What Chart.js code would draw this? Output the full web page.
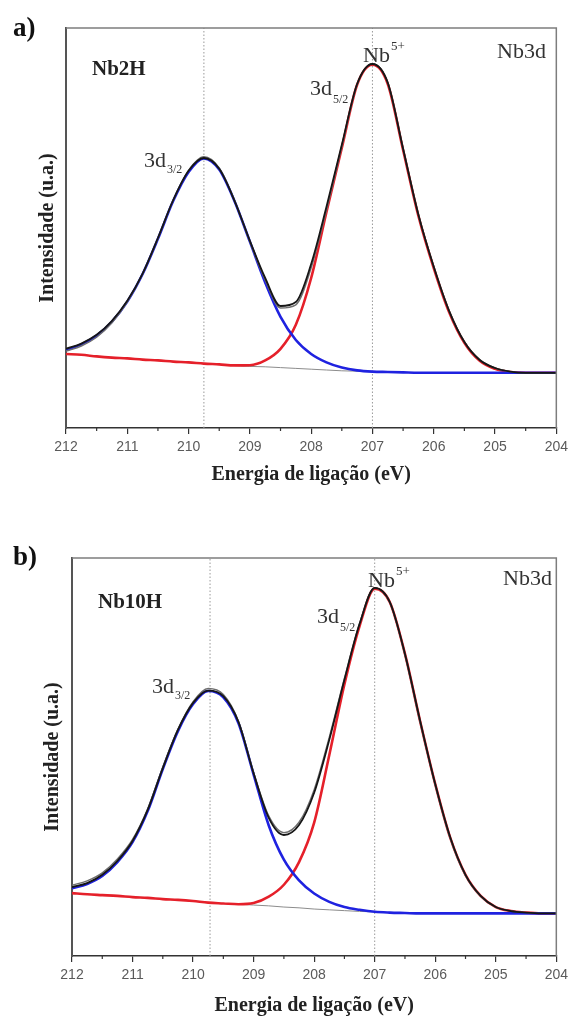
<!DOCTYPE html>
<html><head><meta charset="utf-8">
<script src="https://cdn.jsdelivr.net/npm/chart.js@4.4.0/dist/chart.umd.min.js"></script>
<style>
html,body{margin:0;padding:0;background:#fff;overflow:hidden;width:573px;height:1016px;}
canvas{position:absolute;left:0;}
#ca{top:0;} #cb{top:530px;}
</style></head><body>
<canvas id="ca" width="573" height="500"></canvas>
<canvas id="cb" width="573" height="500"></canvas>
<script>
// Binding energy (eV)
const energy = [212, 211.75, 211.5, 211.25, 211, 210.75, 210.5, 210.25, 210, 209.75, 209.5, 209.25, 209, 208.75, 208.5, 208.25, 208, 207.75, 207.5, 207.25, 207, 206.75, 206.5, 206.25, 206, 205.75, 205.5, 205.25, 205, 204.75, 204.5, 204.25, 204];
const xTickValues = [212, 211, 210, 209, 208, 207, 206, 205, 204];
const xMinorTickValues = [211.5, 210.5, 209.5, 208.5, 207.5, 206.5, 205.5, 204.5];

// Panel a) Nb2H
const bgA   = [18.5, 18.3, 17.9, 17.6, 17.4, 17.1, 16.9, 16.6, 16.4, 16.1, 15.9, 15.6, 15.4, 15.3, 15.1, 14.9, 14.7, 14.5, 14.3, 14.2, 14.1, 14.0, 13.9, 13.8, 13.8, 13.8, 13.8, 13.8, 13.8, 13.8, 13.8, 13.8, 13.8];
const redA  = [18.5, 18.3, 17.9, 17.6, 17.4, 17.1, 16.9, 16.6, 16.4, 16.1, 15.9, 15.65, 15.7, 16.9, 19.8, 25.8, 37.5, 54.0, 70.0, 85.8, 90.8, 86.0, 69.5, 53.0, 40.0, 29.0, 21.3, 16.8, 14.8, 14.0, 13.8, 13.8, 13.8];
const blueA = [19.5, 20.9, 23.1, 26.6, 31.6, 38.5, 47.3, 56.8, 64.0, 67.4, 64.6, 56.7, 46.6, 36.4, 27.8, 22.0, 18.5, 16.4, 15.1, 14.4, 14.1, 14.0, 13.9, 13.8, 13.8, 13.8, 13.8, 13.8, 13.8, 13.8, 13.8, 13.8, 13.8];
const expA  = [19.8, 21.1, 23.3, 26.8, 31.8, 38.6, 47.5, 57.0, 64.3, 67.5, 64.8, 56.8, 46.8, 37.5, 30.5, 31.5, 41.0, 55.3, 70.8, 86.0, 91.0, 86.3, 69.8, 53.3, 40.3, 29.3, 21.5, 17.0, 15.0, 14.1, 13.8, 13.8, 13.8];
const fitA  = [19.2, 20.5, 22.7, 26.3, 31.5, 38.5, 47.4, 57.0, 64.4, 67.8, 65.0, 56.9, 46.6, 37.0, 30.0, 30.8, 40.0, 54.5, 70.3, 85.9, 91.1, 86.4, 69.9, 53.4, 40.4, 29.4, 21.6, 17.1, 15.0, 14.1, 13.8, 13.8, 13.8];
const peakLinesA = [209.75, 207.0];

// Panel b) Nb10H
const bgB   = [15.8, 15.5, 15.3, 15.1, 14.8, 14.6, 14.3, 14.1, 13.8, 13.4, 13.2, 13.0, 12.8, 12.6, 12.3, 12.1, 11.8, 11.6, 11.4, 11.2, 11.1, 10.9, 10.9, 10.8, 10.7, 10.7, 10.7, 10.7, 10.7, 10.7, 10.7, 10.7, 10.7];
const redB  = [15.8, 15.5, 15.3, 15.1, 14.8, 14.6, 14.3, 14.1, 13.8, 13.4, 13.2, 13.0, 13.3, 14.9, 17.9, 23.6, 33.5, 50.5, 68.3, 82.9, 92.3, 88.9, 75.9, 59.0, 43.2, 29.6, 20.4, 15.1, 12.3, 11.3, 10.9, 10.7, 10.7];
const blueB = [17.0, 18.1, 20.1, 23.6, 28.6, 36.4, 47.0, 56.5, 63.3, 66.6, 65.0, 58.5, 45.6, 32.8, 24.2, 19.0, 15.7, 13.6, 12.3, 11.6, 11.1, 10.9, 10.8, 10.7, 10.7, 10.7, 10.7, 10.7, 10.7, 10.7, 10.7, 10.7, 10.7];
const expB  = [17.3, 18.3, 20.4, 23.9, 28.9, 36.7, 47.2, 56.8, 63.6, 66.7, 65.3, 58.8, 45.9, 34.7, 30.4, 32.9, 41.0, 54.3, 69.4, 83.4, 92.5, 88.9, 75.9, 59.1, 43.2, 29.7, 20.4, 15.1, 12.3, 11.3, 10.9, 10.7, 10.7];
const fitB  = [17.8, 18.9, 20.9, 24.4, 29.3, 37.0, 47.5, 57.0, 63.9, 67.2, 65.7, 59.0, 46.1, 35.2, 31.0, 33.6, 41.8, 55.0, 69.8, 83.6, 92.5, 88.8, 75.6, 58.7, 42.9, 29.4, 20.2, 15.0, 12.3, 11.3, 10.9, 10.7, 10.7];
const peakLinesB = [209.72, 207.0];

const SERIF = '"Liberation Serif", "Times New Roman", serif';
const SANS = '"Liberation Sans", Arial, sans-serif';

const pts = arr => energy.map((e, i) => ({x: e, y: arr[i]}));

const decorPlugin = {
  id: 'decor',
  afterDraw(chart, args, opts) {
    const {ctx, chartArea: {left, right, top, bottom}, scales: {x}} = chart;
    ctx.save();
    // top and right frame
    ctx.strokeStyle = '#7d7d7d'; ctx.lineWidth = 1.5;
    ctx.beginPath(); ctx.moveTo(left, top); ctx.lineTo(right, top); ctx.lineTo(right, bottom); ctx.stroke();
    // minor ticks
    ctx.strokeStyle = '#333'; ctx.lineWidth = 1.2;
    for (const v of xMinorTickValues) {
      const p = x.getPixelForValue(v);
      ctx.beginPath(); ctx.moveTo(p, bottom); ctx.lineTo(p, bottom + 3); ctx.stroke();
    }
    // texts
    ctx.textBaseline = 'alphabetic'; ctx.textAlign = 'left';
    for (const it of opts.items || []) {
      ctx.font = it.font; ctx.fillStyle = it.color || '#333';
      ctx.fillText(it.text, it.x, it.y);
      const w = ctx.measureText(it.text).width;
      if (it.sub) { ctx.font = it.subFont; ctx.fillText(it.sub, it.x + w + 1, it.y + it.subDy); }
      if (it.sup) { ctx.font = it.supFont; ctx.fillText(it.sup, it.x + w + 1, it.y + it.supDy); }
    }
    ctx.restore();
  }
};

function makeChart(id, d, cfg) {
  const lineDs = (label, arr, color, width) => ({
    label, data: pts(arr), borderColor: color, borderWidth: width,
    pointRadius: 0, fill: false, cubicInterpolationMode: 'monotone'
  });
  const datasets = [
    lineDs('Experimental', d.exp, '#161616', 1.8),
    lineDs('Envelope', d.fit, '#6e6e6e', 1.4),
    lineDs('3d3/2', d.blue, '#1f22e0', 2.6),
    lineDs('3d5/2', d.red, '#e5202a', 2.6),
    lineDs('Background', d.bg, '#8c8c8c', 1),
  ];
  d.peaks.forEach(v => datasets.push({
    label: 'peak ' + v, data: [{x: v, y: 0}, {x: v, y: 100}],
    borderColor: '#9a9a9a', borderWidth: 1, borderDash: [1.5, 2], pointRadius: 0
  }));
  return new Chart(document.getElementById(id), {
    type: 'line',
    data: {datasets},
    plugins: [decorPlugin],
    options: {
      responsive: false, animation: false, devicePixelRatio: 1,
      layout: {padding: {left: 0, right: cfg.padRight, top: 28, bottom: 0}},
      plugins: {legend: {display: false}, tooltip: {enabled: false}, decor: {items: cfg.items}},
      scales: {
        x: {
          type: 'linear', min: 204, max: 212, reverse: true,
          afterBuildTicks: s => { s.ticks = xTickValues.map(v => ({value: v})); },
          afterFit: s => { s.height = cfg.xHeight; },
          ticks: {color: '#5a5a5a', font: {family: SANS, size: 14}, padding: 5, maxRotation: 0,
                  callback: v => String(v)},
          grid: {display: true, drawOnChartArea: false, drawTicks: true, tickLength: 6, color: '#333', lineWidth: 1.2},
          border: {display: true, color: '#333', width: 1.5},
          title: {display: true, text: 'Energia de ligação (eV)', color: '#222',
                  font: {family: SERIF, size: 20, weight: 'bold'}, padding: {top: 0, bottom: cfg.xTitlePad}}
        },
        y: {
          min: 0, max: 100,
          afterFit: s => { s.width = cfg.yWidth; },
          ticks: {display: false},
          grid: {display: false},
          border: {display: true, color: '#555', width: 2},
          title: {display: true, text: 'Intensidade (u.a.)', color: '#222',
                  font: {family: SERIF, size: 20, weight: 'bold'}, padding: {top: cfg.yTitlePad, bottom: 0}}
        }
      }
    }
  });
}

const lab = (text, x, y, font, color) => ({text, x, y, font, color});
makeChart('ca', {exp: expA, fit: fitA, blue: blueA, red: redA, bg: bgA, peaks: peakLinesA}, {
  padRight: 16, xHeight: 72, yWidth: 66, xTitlePad: 13, yTitlePad: 36,
  items: [
    lab('a)', 13, 36, 'bold 27px ' + SERIF, '#111'),
    lab('Nb2H', 92, 75, 'bold 21px ' + SERIF, '#222'),
    lab('Nb3d', 497, 58, '22px ' + SERIF, '#333'),
    Object.assign(lab('Nb', 363, 62, '22px ' + SERIF, '#333'), {sup: '5+', supFont: '13px ' + SERIF, supDy: -12}),
    Object.assign(lab('3d', 310, 95, '22px ' + SERIF, '#333'), {sub: '5/2', subFont: '12px ' + SERIF, subDy: 8}),
    Object.assign(lab('3d', 144, 167, '22px ' + SERIF, '#333'), {sub: '3/2', subFont: '12px ' + SERIF, subDy: 6})
  ]
});
makeChart('cb', {exp: expB, fit: fitB, blue: blueB, red: redB, bg: bgB, peaks: peakLinesB}, {
  padRight: 10, xHeight: 74, yWidth: 72, xTitlePad: 12, yTitlePad: 41,
  items: [
    lab('b)', 13, 35, 'bold 27px ' + SERIF, '#111'),
    lab('Nb10H', 98, 78, 'bold 21px ' + SERIF, '#222'),
    lab('Nb3d', 503, 55, '22px ' + SERIF, '#333'),
    Object.assign(lab('Nb', 368, 57, '22px ' + SERIF, '#333'), {sup: '5+', supFont: '13px ' + SERIF, supDy: -12}),
    Object.assign(lab('3d', 317, 93, '22px ' + SERIF, '#333'), {sub: '5/2', subFont: '12px ' + SERIF, subDy: 8}),
    Object.assign(lab('3d', 152, 163, '22px ' + SERIF, '#333'), {sub: '3/2', subFont: '12px ' + SERIF, subDy: 6})
  ]
});
</script>
</body></html>
